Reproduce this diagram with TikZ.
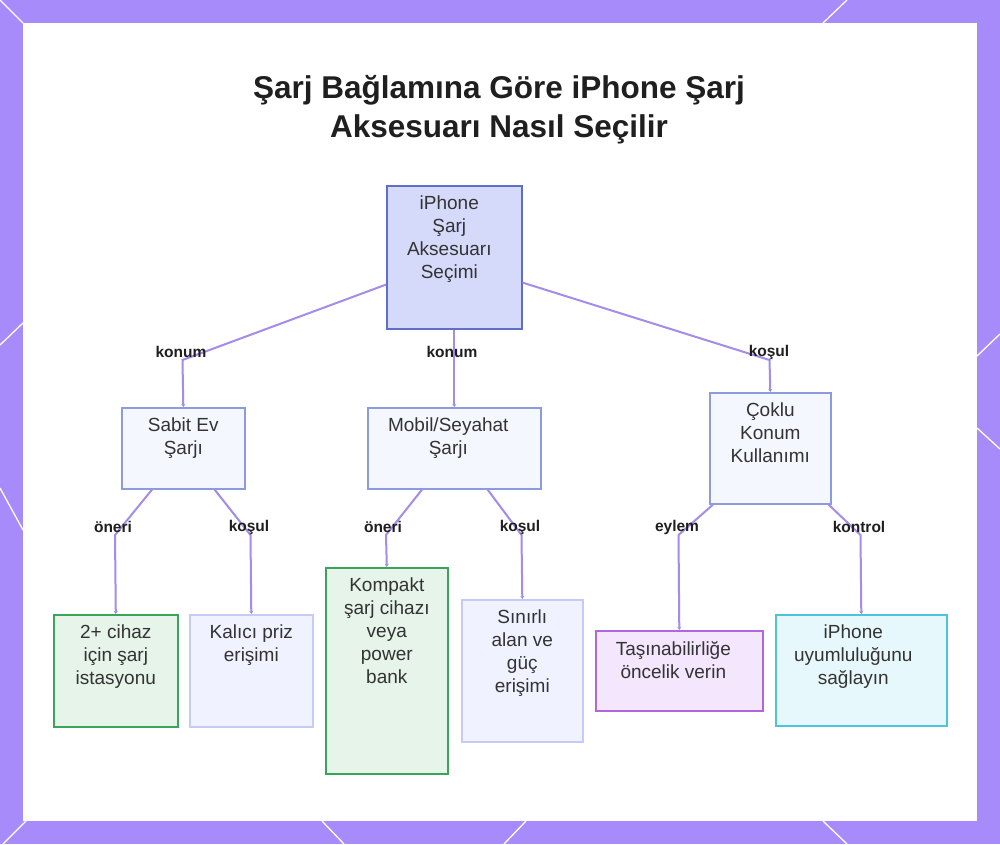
\documentclass[tikz,border=0pt]{standalone}
\usepackage{fontspec}
\setmainfont{Liberation Sans}
\usetikzlibrary{calc,arrows.meta}
\definecolor{bgpurple}{HTML}{A78BFA}
\definecolor{edgec}{HTML}{A58BEA}
\definecolor{textc}{HTML}{333333}
\definecolor{lblc}{HTML}{1F1F1F}
\definecolor{rootfill}{HTML}{D5DAFB}
\definecolor{rootdraw}{HTML}{5F6FC8}
\definecolor{midfill}{HTML}{F5F7FF}
\definecolor{middraw}{HTML}{8C9BE0}
\definecolor{greenfill}{HTML}{E6F4EA}
\definecolor{greendraw}{HTML}{3AA55A}
\definecolor{lavfill}{HTML}{F0F2FF}
\definecolor{lavdraw}{HTML}{C5CBF5}
\definecolor{purpfill}{HTML}{F3E6FD}
\definecolor{purpdraw}{HTML}{B066DE}
\definecolor{cyanfill}{HTML}{E7F8FC}
\definecolor{cyandraw}{HTML}{4FC3DC}
\begin{document}
\begin{tikzpicture}[x=1pt,y=-1pt,
  box/.style={line width=1.6pt, inner sep=0pt, anchor=north west},
  rootbox/.style={box, fill=rootfill, draw=rootdraw},
  midbox/.style={box, fill=midfill, draw=middraw},
  greenbox/.style={box, fill=greenfill, draw=greendraw},
  lavbox/.style={box, fill=lavfill, draw=lavdraw},
  purpbox/.style={box, fill=purpfill, draw=purpdraw},
  cyanbox/.style={box, fill=cyanfill, draw=cyandraw},
  txt/.style={anchor=north, align=center, inner sep=0pt, font=\fontsize{19}{23}\selectfont, text=textc},
  lbl/.style={font=\bfseries\fontsize{15.5}{18}\selectfont, text=lblc, inner sep=1pt},
  edge/.style={draw=edgec, line width=2pt, -{Stealth[length=3pt,width=4pt]}},
  deco/.style={draw=white, line width=1.3pt}]
\useasboundingbox (0,0) rectangle (1000,844);
\fill[bgpurple] (0,0) rectangle (1000,844);
\fill[white] (23,23) rectangle (977,821);
% decorative lattice lines
\draw[deco] (0,0) -- (23,23);
\draw[deco] (847,0) -- (823,23);
\draw[deco] (0,345) -- (23,323);
\draw[deco] (0,488) -- (23,530);
\draw[deco] (977,356) -- (1000,334);
\draw[deco] (977,428) -- (1000,449);
\draw[deco] (26,821) -- (3,844);
\draw[deco] (322,821) -- (344,844);
\draw[deco] (526,821) -- (504,844);
\draw[deco] (823,821) -- (847,844);

% title
\node[font=\bfseries\fontsize{31.5}{39}\selectfont, align=center, text=lblc] (title) at (499,110)
  {Şarj Bağlamına Göre iPhone Şarj\\Aksesuarı Nasıl Seçilir};

% boxes
\node[rootbox, minimum width=135, minimum height=143] (root) at (386,185) {};
\node[midbox, minimum width=123, minimum height=81] (sabit) at (121,407) {};
\node[midbox, minimum width=173, minimum height=81] (mobil) at (367,407) {};
\node[midbox, minimum width=121, minimum height=111] (coklu) at (709,392) {};
\node[greenbox, minimum width=124, minimum height=112] (cihaz) at (53,614) {};
\node[lavbox, minimum width=123, minimum height=112] (kalici) at (189,614) {};
\node[greenbox, minimum width=122, minimum height=206] (kompakt) at (325,567) {};
\node[lavbox, minimum width=121, minimum height=142] (sinirli) at (461,599) {};
\node[purpbox, minimum width=167, minimum height=80] (tasin) at (595,630) {};
\node[cyanbox, minimum width=171, minimum height=111] (uyum) at (775,614) {};

% texts
\node[txt] (roott) at ($(root.north)+(-5,11)$) {iPhone\\Şarj\\Aksesuarı\\Seçimi};
\node[txt] (sabitt) at ($(sabit.north)+(0,11)$) {Sabit Ev\\Şarjı};
\node[txt] (mobilt) at ($(mobil.north)+(-6,11)$) {Mobil/Seyahat\\Şarjı};
\node[txt] (coklut) at ($(coklu.north)+(0,11)$) {Çoklu\\Konum\\Kullanımı};
\node[txt] (cihazt) at ($(cihaz.north)+(0,11)$) {2+ cihaz\\için şarj\\istasyonu};
\node[txt] (kalicit) at ($(kalici.north)+(0,11)$) {Kalıcı priz\\erişimi};
\node[txt] (kompaktt) at ($(kompakt.north)+(0,11)$) {Kompakt\\şarj cihazı\\veya\\power\\bank};
\node[txt] (sinirlit) at ($(sinirli.north)+(0,11)$) {Sınırlı\\alan ve\\güç\\erişimi};
\node[txt] (tasint) at ($(tasin.north)+(-6,11)$) {Taşınabilirliğe\\öncelik verin};
\node[txt] (uyumt) at ($(uyum.north)+(-8,11)$) {iPhone\\uyumluluğunu\\sağlayın};

% bend coordinates
\coordinate (b1) at (182.5,360);
\coordinate (b3) at (769.5,360);
\coordinate (c1) at (115,535);
\coordinate (c2) at (250.5,535);
\coordinate (c3) at (386,535);
\coordinate (c4) at (521.5,535);
\coordinate (c5) at (678.5,535);
\coordinate (c6) at (860.5,535);

% edges
\draw[edge] ($(root.south west)+(0,-45)$) -- (b1) -- (sabit.north);
\draw[edge] (root.south) -- (mobil.north);
\draw[edge] ($(root.south east)+(0,-47)$) -- (b3) -- (coklu.north);
\draw[edge] ($(sabit.south west)+(31,0)$) -- (c1) -- (cihaz.north);
\draw[edge] ($(sabit.south east)+(-31,0)$) -- (c2) -- (kalici.north);
\draw[edge] ($(mobil.south west)+(55,0)$) -- (c3) -- (kompakt.north);
\draw[edge] ($(mobil.south east)+(-54,0)$) -- (c4) -- (sinirli.north);
\draw[edge] ($(coklu.south west)+(4,0)$) -- (c5) -- (tasin.north);
\draw[edge] ($(coklu.south east)+(-3,0)$) -- (c6) -- (uyum.north);

% labels
\node[lbl] (l1) at (181,352) {konum};
\node[lbl] (l2) at (452,352) {konum};
\node[lbl] (l3) at (769,352) {koşul};
\node[lbl] (l4) at (113,527) {öneri};
\node[lbl] (l5) at (249,527) {koşul};
\node[lbl] (l6) at (383,527) {öneri};
\node[lbl] (l7) at (520,527) {koşul};
\node[lbl] (l8) at (677,527) {eylem};
\node[lbl] (l9) at (859,527) {kontrol};
\end{tikzpicture}
\end{document}
